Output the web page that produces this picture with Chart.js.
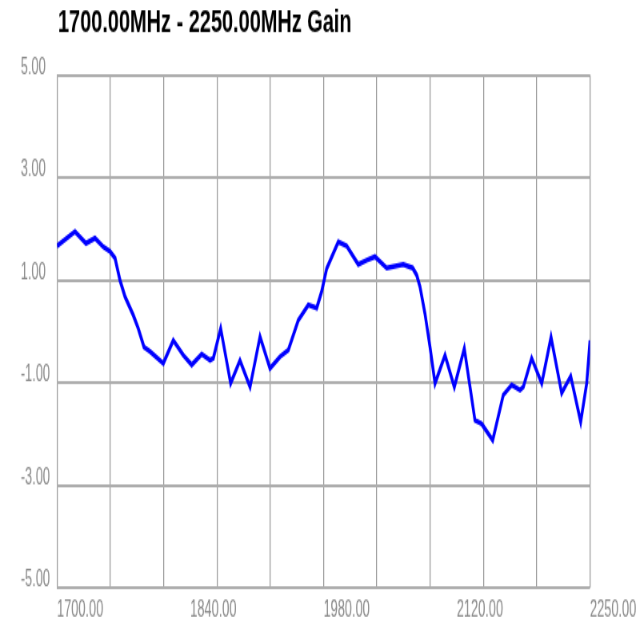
<!DOCTYPE html>
<html>
<head>
<meta charset="utf-8">
<script src="https://cdn.jsdelivr.net/npm/chart.js@4"></script>
<style>
  html, body { margin: 0; padding: 0; background: #fff; width: 640px; height: 640px; overflow: hidden; }
  #wrap { position: relative; width: 640px; height: 640px; overflow: hidden; }
  /* the reference looks squeezed sideways and stretched up, so draw at 800x440 and scale to 640x640 */
  #myChart { position: absolute; left: 0; top: 0; display: block; transform: scale(0.8, 1.454545); transform-origin: 0 0; }
</style>
</head>
<body>
<div id="wrap">
  <canvas id="myChart" width="800" height="440" style="width:800px;height:440px"></canvas>
</div>
<script>
const chartTitle = '1700.00MHz - 2250.00MHz Gain';

// frequency (MHz) and gain (dB)
const freqs = [1700, 1718.6, 1729.9, 1739.2, 1747.8, 1754.7, 1759.9, 1765, 1770.2, 1778.7,
  1783.9, 1789.8, 1796, 1809.7, 1820, 1830.3, 1839, 1849.3, 1857.9, 1861.3,
  1868.9, 1879.2, 1888.8, 1899.2, 1909.5, 1919.8, 1930.1, 1938.7, 1949, 1959.3,
  1968, 1973.1, 1978.3, 1990.3, 1998.9, 2010.9, 2019.6, 2028.1, 2040.2, 2057.3,
  2067, 2071.2, 2074.6, 2079.7, 2084.9, 2090.1, 2100.4, 2110, 2120.3, 2126.2,
  2131.3, 2138.2, 2149.6, 2160.5, 2169.2, 2177.8, 2181.2, 2189.8, 2200.2, 2209.8,
  2220.8, 2230.1, 2240.4, 2246.6, 2250];
const gains = [1.67, 1.95, 1.72, 1.82, 1.65, 1.56, 1.43, 1.00, 0.68, 0.32,
  0.06, -0.30, -0.39, -0.62, -0.17, -0.46, -0.65, -0.44, -0.56, -0.52,
  0.06, -1.01, -0.56, -1.08, -0.10, -0.72, -0.49, -0.36, 0.22, 0.52,
  0.46, 0.78, 1.23, 1.75, 1.67, 1.31, 1.39, 1.46, 1.24, 1.31,
  1.24, 1.10, 0.87, 0.35, -0.30, -1.01, -0.46, -1.08, -0.33, -1.08,
  -1.73, -1.80, -2.12, -1.24, -1.04, -1.14, -1.08, -0.52, -1.01, -0.11,
  -1.20, -0.87, -1.76, -1.01, -0.17];

const xMin = 1700, xMax = 2250, xGridStep = 55;
const xLabels = ['1700.00', '1840.00', '1980.00', '2120.00', '2250.00'];
const yTicks = [-5, -3, -1, 1, 3, 5];

const fontFamily = "'Liberation Sans', Arial, sans-serif";

// title drawn at the top left, squeezed to the reference width
const titlePlugin = {
  id: 'leftTitle',
  afterDraw(chart) {
    const ctx = chart.ctx;
    ctx.save();
    ctx.font = 'bold 22px ' + fontFamily;
    ctx.fillStyle = '#000';
    ctx.textBaseline = 'middle';
    ctx.textAlign = 'left';
    const w = ctx.measureText(chartTitle).width;
    ctx.translate(72.5, 16);
    ctx.scale(367 / w, 1);
    ctx.fillText(chartTitle, 0, 0);
    ctx.restore();
  }
};

function initChart() {
  const ctx = document.getElementById('myChart');
  return new Chart(ctx, {
    type: 'line',
    data: {
      datasets: [{
        label: 'Gain',
        data: freqs.map((f, i) => ({ x: f, y: gains[i] })),
        borderColor: '#0000ff',
        borderWidth: 3.5,
        pointRadius: 0,
        tension: 0,
        fill: false,
        xAxisID: 'x',
        yAxisID: 'y'
      }]
    },
    options: {
      responsive: false,
      animation: false,
      devicePixelRatio: 1,
      layout: { padding: { top: 51.6, right: 62.5, left: 26, bottom: 0 } },
      plugins: { legend: { display: false }, title: { display: false }, tooltip: { enabled: false } },
      scales: {
        x: {
          type: 'linear',
          position: 'bottom',
          min: xMin,
          max: xMax,
          grid: { display: false, drawTicks: false },
          border: { display: false },
          afterBuildTicks: (scale) => {
            scale.ticks = xLabels.map((_, i) => ({ value: xMin + i * (xMax - xMin) / (xLabels.length - 1) }));
          },
          afterFit: (scale) => {
            scale.height = 35.75;
            scale.paddingLeft = 0;
            scale.paddingRight = 0;
          },
          ticks: {
            autoSkip: false,
            maxRotation: 0,
            align: 'start',
            padding: 6,
            color: '#8a8a8a',
            font: { family: fontFamily, size: 16 },
            callback: (v, i) => xLabels[i]
          }
        },
        xg: {
          type: 'linear',
          position: 'bottom',
          min: xMin,
          max: xMax,
          grid: { display: true, color: '#9a9a9a', lineWidth: 1.25, drawTicks: false },
          border: { display: false },
          ticks: { display: false, stepSize: xGridStep },
          afterFit: (scale) => {
            scale.height = 0;
            scale.paddingLeft = 0;
            scale.paddingRight = 0;
          }
        },
        y: {
          min: -5,
          max: 5,
          grid: { color: '#adadad', lineWidth: 2, drawTicks: false },
          border: { display: false },
          afterBuildTicks: (scale) => { scale.ticks = yTicks.map(v => ({ value: v })); },
          afterFit: (scale) => {
            scale.width = 45.25;
            scale.paddingTop = 0;
            scale.paddingBottom = 0;
          },
          ticks: {
            crossAlign: 'far',
            padding: 8,
            labelOffset: -5.5,
            color: '#8a8a8a',
            font: { family: fontFamily, size: 16 },
            callback: (v) => Number(v).toFixed(2)
          }
        }
      }
    },
    plugins: [titlePlugin]
  });
}

document.addEventListener('DOMContentLoaded', () => initChart());
</script>
</body>
</html>
